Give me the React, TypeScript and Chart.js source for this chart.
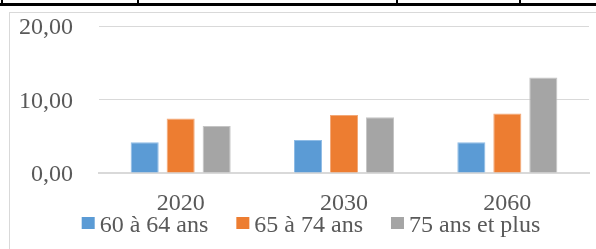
import React, { useEffect, useRef } from 'react';
import { Chart, registerables } from 'chart.js';

Chart.register(...registerables);

const categories = ['2020', '2030', '2060'];
const seriesNames = ['60 à 64 ans', '65 à 74 ans', '75 ans et plus'];
const values6064 = [4.2, 4.5, 4.2];
const values6574 = [7.4, 7.9, 8.1];
const values75plus = [6.4, 7.6, 13.0];
const yTickValues = [0, 10, 20];

const seriesColors = ['#5B9BD5', '#ED7D31', '#A5A5A5'];
const seriesBorders = ['#8FBCE6', '#F3A877', '#C4C4C4'];
const FONT = "'Liberation Serif', serif";
const TEXT = '#595959';

const legendPlugin = {
  id: 'customLegend',
  afterDraw(chart: any) {
    const ctx = chart.ctx;
    ctx.save();
    ctx.font = `24px ${FONT}`;
    const box = 13;
    const gapText = 5;
    const gapItem = 28;
    const items = chart.data.datasets.map((ds: any) => ({
      label: ds.label,
      color: ds.backgroundColor,
      w: ctx.measureText(ds.label).width,
    }));
    const total =
      items.reduce((s: number, it: any) => s + box + gapText + it.w, 0) + gapItem * (items.length - 1);
    let x = 311 - total / 2;
    ctx.textBaseline = 'alphabetic';
    ctx.textAlign = 'left';
    for (const it of items) {
      ctx.fillStyle = it.color;
      ctx.fillRect(x, 217, box, 12);
      ctx.fillStyle = TEXT;
      ctx.fillText(it.label, x + box + gapText, 231.5);
      x += box + gapText + it.w + gapItem;
    }
    ctx.restore();
  },
};

export default function App() {
  const ref = useRef<HTMLCanvasElement>(null);

  useEffect(() => {
    document.body.style.margin = '0';
    const datasets = [values6064, values6574, values75plus].map((vals, i) => ({
      label: seriesNames[i],
      data: vals,
      backgroundColor: seriesColors[i],
      borderColor: seriesBorders[i],
      borderWidth: 1,
      categoryPercentage: 0.661,
      barPercentage: 0.78,
    }));
    const chart = new Chart(ref.current!, {
      type: 'bar',
      data: { labels: categories, datasets },
      options: {
        responsive: false,
        animation: false,
        devicePixelRatio: 1,
        layout: { padding: { left: 0, right: 7, top: 26, bottom: 0 } },
        plugins: { legend: { display: false }, tooltip: { enabled: false } },
        scales: {
          x: {
            grid: { display: false, drawTicks: false },
            border: { display: true, color: '#D9D9D9', width: 2 },
            ticks: { color: TEXT, font: { family: FONT, size: 24 }, padding: 16, maxRotation: 0 },
            afterFit: (s: any) => {
              s.height = 76;
              s.paddingLeft = 0;
              s.paddingRight = 0;
            },
          },
          y: {
            min: 0,
            max: 20,
            grid: { color: '#D9D9D9', lineWidth: 1, drawTicks: false },
            border: { display: false },
            afterBuildTicks: (s: any) => {
              s.ticks = yTickValues.map((v) => ({ value: v }));
            },
            ticks: {
              color: TEXT,
              font: { family: FONT, size: 24 },
              padding: 26,
              labelOffset: 2,
              callback: (v: any) => Number(v).toFixed(2).replace('.', ','),
            },
            afterFit: (s: any) => {
              s.width = 99;
              s.paddingTop = 0;
              s.paddingBottom = 0;
            },
          },
        },
      },
      plugins: [legendPlugin],
    });
    return () => chart.destroy();
  }, []);

  const vline = (left: number) => (
    <div style={{ position: 'absolute', left, top: 0, width: 2, height: 4, background: '#000' }} />
  );

  return (
    <div style={{ position: 'relative', width: 596, height: 249, overflow: 'hidden', background: '#fff' }}>
      <div style={{ position: 'absolute', left: 0, top: 3, width: 596, height: 3, background: '#000' }} />
      {vline(1)}
      {vline(137)}
      {vline(396)}
      {vline(519)}
      <div
        style={{
          position: 'absolute',
          left: 9,
          top: 12,
          width: 620,
          height: 260,
          border: '1px solid #D9D9D9',
          boxSizing: 'border-box',
        }}
      />
      <canvas ref={ref} width={596} height={249} style={{ position: 'absolute', left: 0, top: 0 }} />
    </div>
  );
}
